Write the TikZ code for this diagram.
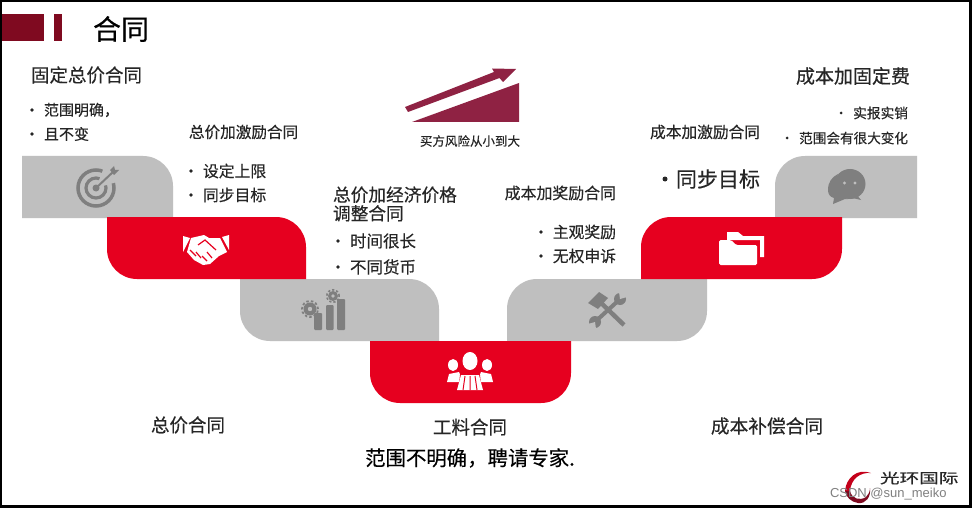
\documentclass[tikz,border=0pt]{standalone}
\usepackage{fontspec}
\setmainfont{Noto Sans CJK SC}[FakeBold=0.35]
\newfontfamily\latinsans{Liberation Sans}
\definecolor{mygrey}{HTML}{BFBFBF}
\definecolor{myicon}{HTML}{7F7F7F}
\definecolor{myred}{HTML}{E6001F}
\definecolor{mydark}{HTML}{7F0A20}
\definecolor{myrisk}{HTML}{8F2243}
\definecolor{mytext}{HTML}{262626}
\newcommand{\fs}[1]{\fontsize{#1}{#1}\selectfont}
\tikzset{
  txt/.style={inner sep=0pt,outer sep=0pt,text=mytext,anchor=west},
  txe/.style={txt,anchor=east},
  txc/.style={txt,anchor=center},
  ico/.style={fill=myicon,draw=none},
  wht/.style={fill=white,draw=none},
  bulletdot/.style={circle,fill=mytext,inner sep=0pt,minimum size=3.6pt,anchor=center},
}
\begin{document}
\begin{tikzpicture}[x=1pt,y=-1pt]
\useasboundingbox (0,0) rectangle (972,508);
\fill[white] (0,0) rectangle (972,508);

% header marks
\fill[mydark] (2,14) rectangle (44,41);
\fill[mydark] (54,14) rectangle (62,41);

% steps
\fill[mygrey] (22,156) -- (143,156) .. controls (159.6,156) and (173,169.4) .. (173,186) -- (173,218) -- (22,218) -- cycle;
\fill[mygrey] (240,279) -- (409,279) .. controls (425.6,279) and (439,292.4) .. (439,309) -- (439,341) -- (270,341) .. controls (253.4,341) and (240,327.6) .. (240,311) -- cycle;
\fill[mygrey] (707,279) -- (537,279) .. controls (520.4,279) and (507,292.4) .. (507,309) -- (507,341) -- (677,341) .. controls (693.6,341) and (707,327.6) .. (707,311) -- cycle;
\fill[mygrey] (917,156) -- (805,156) .. controls (788.4,156) and (775,169.4) .. (775,186) -- (775,218) -- (917,218) -- cycle;
\fill[myred] (107,217) -- (276,217) .. controls (292.6,217) and (306,230.4) .. (306,247) -- (306,279) -- (137,279) .. controls (120.4,279) and (107,265.6) .. (107,249) -- cycle;
\fill[myred] (842,217) -- (671,217) .. controls (654.4,217) and (641,230.4) .. (641,247) -- (641,279) -- (812,279) .. controls (828.6,279) and (842,265.6) .. (842,249) -- cycle;
\fill[myred] (370,341) -- (571,341) -- (571,373) .. controls (571,389.6) and (557.6,403) .. (541,403) -- (400,403) .. controls (383.4,403) and (370,389.6) .. (370,373) -- cycle;

% risk arrow
\fill[myrisk] (405,107) -- (494,72) -- (492,68.5) -- (516,69) -- (503,82) -- (499.5,78) -- (408,112) -- cycle;
\fill[myrisk] (412,122) -- (519,83) -- (519,122) -- cycle;

% target icon
\draw[myicon,line width=3.5pt] (96,188) circle[radius=18pt];
\draw[myicon,line width=3.2pt] (96,188) circle[radius=10pt];
\fill[mygrey] (96,188) -- (106,162) -- (124,180) -- cycle;
\fill[myicon] (96,188) circle[radius=3.5pt];
\draw[myicon,line width=2pt] (96,188) -- (113,172);
\fill[myicon] (110,170) -- (114,166) -- (115,170) -- (119,170) -- (114,175) -- cycle;

% handshake icon
\fill[wht] (183,236) -- (190,238) -- (183,252) -- cycle;
\fill[wht] (229,235) -- (229,250) -- (222,237) -- cycle;
\fill[wht] (191,238) -- (204,235) -- (209,238) -- (220,238) -- (227,252) -- (219,256) -- (210,264) -- (203,265) -- (194,260) -- (187,252) -- cycle;
\draw[myred,line width=1.2pt] (198,245) -- (205,240) -- (216,250) (207,252) -- (212,258) (202,256) -- (207,261) (196,252) -- (201,258) (190,250) -- (196,256);

% gears and bars icon
\fill[ico,rounded corners=1pt] (314,313) rectangle (322,330);
\fill[ico,rounded corners=1pt] (326,305) rectangle (333.5,330);
\fill[ico,rounded corners=1pt] (337,299) rectangle (345,330);
\fill[ico] (310,309) circle[radius=6.5pt];
\draw[myicon,line width=1.8pt,dash pattern=on 2.4pt off 2.2pt] (310,309) circle[radius=8pt];
\fill[mygrey] (310,309) circle[radius=2.2pt];
\fill[ico] (333,296) circle[radius=5pt];
\draw[myicon,line width=1.6pt,dash pattern=on 2.2pt off 2pt] (333,296) circle[radius=6.2pt];
\fill[mygrey] (333,296) circle[radius=1.8pt];

% tools icon
\draw[myicon,line width=4.5pt] (598,300) -- (624,325);
\fill[ico] (588,303) -- (599,292) -- (608,298) -- (598,309) -- cycle;
\draw[myicon,line width=4pt] (596,321) -- (619,300);
\fill[ico] (595,322) circle[radius=6pt];
\fill[ico] (620,299) circle[radius=6pt];
\fill[mygrey] (595,322) -- (588,324) -- (590,330) -- (596,329) -- cycle;
\fill[mygrey] (620,299) -- (627,297) -- (625,291) -- (619,292) -- cycle;

% people icon
\fill[wht] (453,365) ellipse[x radius=5pt,y radius=6pt];
\fill[wht] (487,365) ellipse[x radius=5pt,y radius=6pt];
\fill[wht] (447,382) -- (449,374) -- (459,372) -- (463,382) -- cycle;
\fill[wht] (493,382) -- (491,374) -- (481,372) -- (477,382) -- cycle;
\draw[myred,line width=2pt] (463,358) -- (459,392) (477,358) -- (481,392);
\fill[wht] (470,361) ellipse[x radius=7.5pt,y radius=9pt];
\fill[wht] (457,390) -- (461,375) -- (479,375) -- (483,390) -- cycle;
\draw[myred,line width=1pt] (470,376) -- (470,390) (465,376) -- (463,390) (475,376) -- (477,390);

% folder icon
\fill[wht] (727,232) -- (738,232) -- (743,236) -- (764,236) -- (764,257) -- (760,257) -- (760,240) -- (727,240) -- cycle;
\fill[wht,rounded corners=1.5pt] (719,240) -- (731,240) -- (736,245) -- (757,245) -- (757,265) -- (719,265) -- cycle;

% chat icon
\fill[ico] (828,190) .. controls (828,182) and (832,177) .. (838,174) .. controls (832,186) and (838,196) .. (848,199) -- (845,199) -- (833,204) -- (834,198) .. controls (830,197) and (828,194) .. (828,190) -- cycle;
\fill[ico] (850,184) ellipse[x radius=15.5pt,y radius=15pt];
\fill[ico] (856,194) -- (861,200) -- (848,197) -- cycle;
\fill[mygrey] (844.5,183) circle[radius=1.6pt];
\fill[mygrey] (855,183) circle[radius=1.6pt];

% frame
\draw[black,line width=2.5pt] (1,1) rectangle (970.5,506.5);

% titles and labels
\node[txt,text=black] (title) at (93,29) {\fs{28}合同};
\node[txt] (fp) at (31,75) {\fs{18.5}固定总价合同};
\node[bulletdot] (b1a) at (32,110) {};
\node[txt] (t1a) at (44,110) {\fs{15}范围明确，};
\node[bulletdot] (b1b) at (32,134) {};
\node[txt] (t1b) at (44,134) {\fs{15}且不变};

\node[txt] (fpi) at (189,132) {\fs{15.6}总价加激励合同};
\node[bulletdot] (b2a) at (191,171) {};
\node[txt] (t2a) at (203,171) {\fs{15.8}设定上限};
\node[bulletdot] (b2b) at (191,195) {};
\node[txt] (t2b) at (203,195) {\fs{15.8}同步目标};

\node[txt,align=left,font=\fs{17.7}] (fpe) at (333,204) {总价加经济价格\\[1pt]调整合同};
\node[bulletdot] (b3a) at (338,241) {};
\node[txt] (t3a) at (350,241) {\fs{16.5}时间很长};
\node[bulletdot] (b3b) at (338,267) {};
\node[txt] (t3b) at (350,267) {\fs{16.5}不同货币};

\node[txe] (cpa) at (616,193) {\fs{15.9}成本加奖励合同};
\node[bulletdot] (b4a) at (541,232) {};
\node[txe] (t4a) at (616,232) {\fs{15.8}主观奖励};
\node[bulletdot] (b4b) at (541,256) {};
\node[txe] (t4b) at (616,256) {\fs{15.8}无权申诉};

\node[txe] (cpi) at (760,132) {\fs{15.7}成本加激励合同};
\node[bulletdot,minimum size=5pt] (b5) at (665,179) {};
\node[txe] (t5) at (760,179) {\fs{21}同步目标};

\node[txe] (cpf) at (910,76) {\fs{19}成本加固定费};
\node[bulletdot,minimum size=3pt] (b6a) at (841,113) {};
\node[txe] (t6a) at (908,113) {\fs{13.7}实报实销};
\node[bulletdot,minimum size=3pt] (b6b) at (787,138) {};
\node[txe] (t6b) at (908,138) {\fs{13.6}范围会有很大变化};

\node[txc] (risk) at (470,141) {\fs{12.5}买方风险从小到大};
\node[txc] (grp1) at (188,425) {\fs{18.5}总价合同};
\node[txc] (grp2) at (470,427) {\fs{18.5}工料合同};
\node[txc] (grp3) at (767,426) {\fs{18.7}成本补偿合同};
\node[txc,text=black] (note) at (470,458) {\fs{20.4}范围不明确，聘请专家.};

% logo
\fill[myred!85!black] (845,491) .. controls (846,478) and (857,468) .. (871,473) .. controls (860,472) and (851,479) .. (850,491) -- cycle;
\fill[mydark] (850,491) .. controls (852,499) and (860,501) .. (866,497) .. controls (868,495) and (870,492) .. (870,488) .. controls (871,497) and (866,504) .. (858,503) .. controls (851,502) and (846,497) .. (845,491) -- cycle;
\node[txt] (logo) at (880,478) {\scalebox{1.4}[1]{\fs{14}光环国际}};
\node[txt,text=gray] (mark) at (830,494) {\latinsans\fs{13}CSDN @sun\_meiko};
\end{tikzpicture}
\end{document}
